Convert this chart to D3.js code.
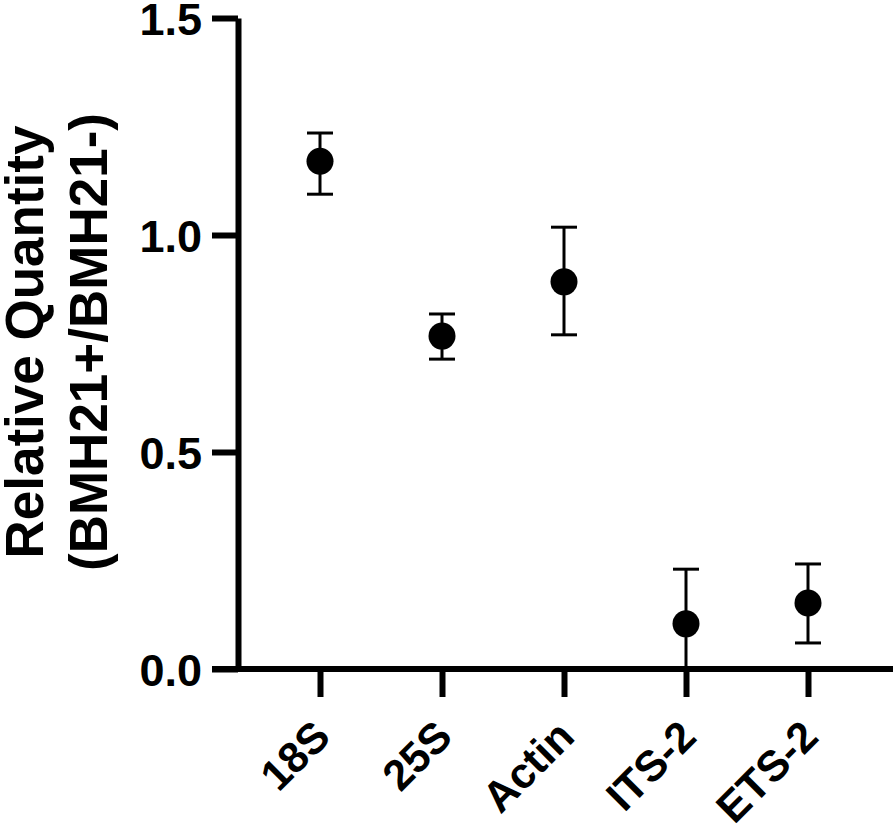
<!DOCTYPE html>
<html>
<head>
<meta charset="utf-8">
<script src="https://cdn.jsdelivr.net/npm/d3@7"></script>
<style>
  body { margin: 0; background: #fff; }
  text { font-family: "Liberation Sans", Arial, sans-serif; font-weight: bold; fill: #000; }
</style>
</head>
<body>
<script>
// data
const categories = ["18S", "25S", "Actin", "ITS-2", "ETS-2"];
const means = [1.17, 0.767, 0.892, 0.104, 0.152];
const upper = [1.235, 0.818, 1.018, 0.230, 0.242];
const lower = [1.094, 0.714, 0.770, 0.0, 0.060];
const yTicks = [0, 0.5, 1.0, 1.5];

const width = 894, height = 839;

const svg = d3.select("body")
    .append("svg")
    .attr("width", width)
    .attr("height", height);

const x = d3.scalePoint()
    .domain(categories)
    .range([320, 808]);

const y = d3.scaleLinear()
    .domain([0, 1.5])
    .range([669, 18]);

const axisX0 = 238;

// error bars
const pts = categories.map((c, i) => ({ c, m: means[i], hi: upper[i], lo: lower[i] }));

const bars = svg.append("g")
    .attr("stroke", "#000")
    .attr("stroke-width", 3);

bars.selectAll(".stem")
    .data(pts)
    .enter()
    .append("line")
    .attr("x1", d => x(d.c))
    .attr("x2", d => x(d.c))
    .attr("y1", d => y(d.hi))
    .attr("y2", d => y(d.lo));

bars.selectAll(".capHi")
    .data(pts)
    .enter()
    .append("line")
    .attr("x1", d => x(d.c) - 13)
    .attr("x2", d => x(d.c) + 13)
    .attr("y1", d => y(d.hi))
    .attr("y2", d => y(d.hi));

bars.selectAll(".capLo")
    .data(pts.filter(d => d.lo > 0))
    .enter()
    .append("line")
    .attr("x1", d => x(d.c) - 13)
    .attr("x2", d => x(d.c) + 13)
    .attr("y1", d => y(d.lo))
    .attr("y2", d => y(d.lo));

svg.selectAll("circle")
    .data(pts)
    .enter()
    .append("circle")
    .attr("cx", d => x(d.c))
    .attr("cy", d => y(d.m))
    .attr("r", 13.5)
    .attr("fill", "#000");

// y axis
const yAxis = svg.append("g")
    .attr("transform", `translate(${axisX0},0)`)
    .call(d3.axisLeft(y)
        .tickValues(yTicks)
        .tickFormat(d3.format(".1f"))
        .tickSize(26)
        .tickSizeOuter(0)
        .tickPadding(10));

yAxis.select(".domain").attr("stroke-width", 6);
yAxis.selectAll(".tick line").attr("stroke-width", 6);
yAxis.selectAll(".tick text")
    .attr("font-size", 45)
    .attr("dy", "0.36em");

// x axis
const xAxis = svg.append("g")
    .attr("transform", `translate(0,${y(0)})`)
    .call(d3.axisBottom(x).tickSize(28).tickSizeOuter(0));

xAxis.select(".domain").remove();
xAxis.append("line")
    .attr("x1", 212)
    .attr("x2", 893)
    .attr("stroke", "#000")
    .attr("stroke-width", 6);
xAxis.selectAll(".tick line").attr("stroke-width", 6);
xAxis.selectAll(".tick text")
    .attr("font-size", 43)
    .attr("text-anchor", "end")
    .attr("y", 0)
    .attr("dy", 0)
    .attr("transform", "translate(12,70) rotate(-45)");

// y title
const title = svg.append("g")
    .attr("transform", "translate(0,342) rotate(-90)")
    .attr("text-anchor", "middle")
    .attr("font-size", 53);

title.append("text").attr("x", 0).attr("y", 43).text("Relative Quantity");
title.append("text").attr("x", 0).attr("y", 107).text("(BMH21+/BMH21-)");
</script>
</body>
</html>
